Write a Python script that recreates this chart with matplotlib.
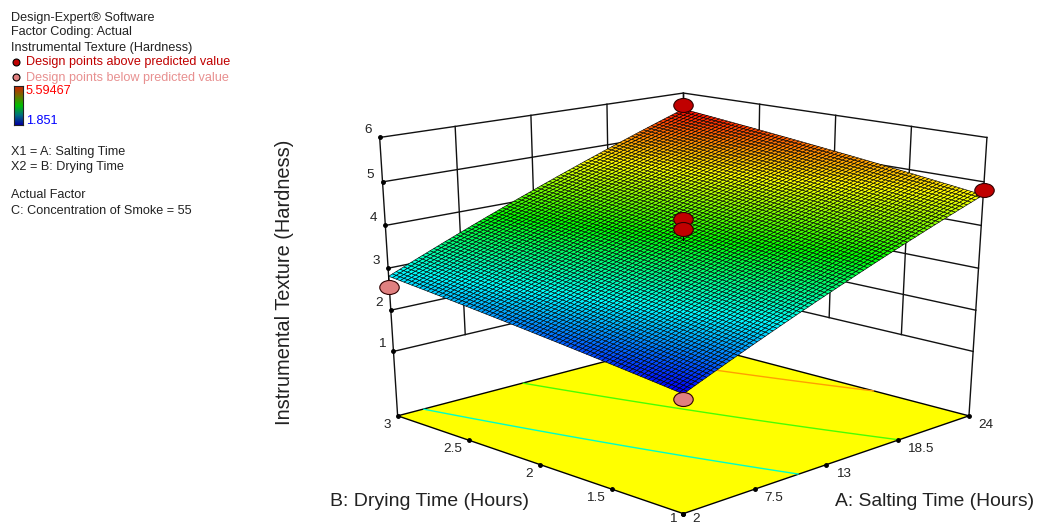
import matplotlib
matplotlib.use('Agg')
import matplotlib.pyplot as plt
import numpy as np
from matplotlib.colors import LinearSegmentedColormap
from matplotlib.markers import MarkerStyle
from matplotlib.transforms import Affine2D
from mpl_toolkits.mplot3d import proj3d

plt.rcParams['font.family'] = ['Liberation Sans', 'DejaVu Sans']

# axis ticks
a_ticks = [2, 7.5, 13, 18.5, 24]
b_ticks = [1, 1.5, 2, 2.5, 3]
z_ticks = [1, 2, 3, 4, 5, 6]
z_floor = -0.6
z_top = 6

# fitted surface at the four corners of the design space
surf_a2_b1 = 1.851
surf_a2_b3 = 2.74
surf_a24_b1 = 4.70
surf_a24_b3 = 5.59467
# these two corners sit a bit higher in the drawing than their colour says
surf_a2_b1_drawn = 2.0
surf_a2_b3_drawn = 2.81
contour_levels = [3, 4, 5]

# design points
above_a = [24, 24, 13, 13]
above_b = [3, 1, 2, 2]
above_z = [5.69, 4.82, 4.24, 4.03]
below_a = [2, 2]
below_b = [1, 3]
below_z = [1.90, 2.55]

W, H = 1037, 524
fig = plt.figure(figsize=(W / 100, H / 100), dpi=100)
cmap = LinearSegmentedColormap.from_list('de', ['#0000ff', '#00ffff', '#00ff00', '#ffff00', '#ff0000'])
bar_cmap = LinearSegmentedColormap.from_list('bar', ['#0000a0', '#007080', '#00c000', '#707000', '#d02000'])
norm = plt.Normalize(surf_a2_b1, surf_a24_b3)

ax = fig.add_subplot(projection='3d', computed_zorder=False)
# the picture is stretched sideways, so let the 3d axes be non square
ax.apply_aspect = lambda position=None: None
ax.set_position([330 / W, (H - 543.3) / H, 688 / W, 511 / H])
ax.set_box_aspect((1, 1, 0.9476))
ax.view_init(elev=18.35, azim=-135)
ax.set_proj_type('persp', focal_length=0.5475)
ax.set_xlim(a_ticks[0], a_ticks[-1])
ax.set_ylim(b_ticks[0], b_ticks[-1])
ax.set_zlim(z_floor, z_top)
ax.set_axis_off()

a0, a1 = a_ticks[0], a_ticks[-1]
b0, b1 = b_ticks[0], b_ticks[-1]


# the original spaces ticks evenly on screen, this undoes the perspective along the floor
def even(v, lo, hi, r=1.15):
    s = (np.asarray(v, dtype=float) - lo) / (hi - lo)
    return lo + (hi - lo) * s / (s + (1 - s) * r)


def pa(v):
    return even(v, a0, a1)


def pb(v):
    return even(v, b0, b1)


def corners(ta, tb, front, left):
    return (front * (1 - ta) * (1 - tb) + surf_a24_b1 * ta * (1 - tb)
            + left * (1 - ta) * tb + surf_a24_b3 * ta * tb)


# back walls
for a in a_ticks:
    low = z_floor if a == a0 else z_ticks[0]
    ax.plot([pa(a), pa(a)], [b1, b1], [low, z_top], color='#111111', lw=1, zorder=1)
for b in b_ticks:
    low = z_floor if b == b0 else z_ticks[0]
    ax.plot([a1, a1], [pb(b), pb(b)], [low, z_top], color='#111111', lw=1, zorder=1)
for z in z_ticks:
    ax.plot([a0, a1], [b1, b1], [z, z], color='#111111', lw=1, zorder=1)
    ax.plot([a1, a1], [b0, b1], [z, z], color='#111111', lw=1, zorder=1)

# floor
fa, fb = np.meshgrid([a0, a1], [b0, b1])
ax.plot_surface(fa, fb, np.full(fa.shape, z_floor), color='#ffff00', shade=False, zorder=2)
ax.plot([a0, a1, a1, a0, a0], [b0, b0, b1, b1, b0], [z_floor] * 5, color='black', lw=1, zorder=2.5)

# response surface
n = 76
sa, sb = np.meshgrid(np.linspace(a0, a1, n + 1), np.linspace(b0, b1, n + 1))
ta = (sa - a0) / (a1 - a0)
tb = (sb - b0) / (b1 - b0)
field = corners(ta, tb, surf_a2_b1, surf_a2_b3)
drawn = corners(ta, tb, surf_a2_b1_drawn, surf_a2_b3_drawn)
ga, gb = pa(sa), pb(sb)

ax.contour(ga, gb, field, levels=contour_levels, zdir='z', offset=z_floor,
           colors=[cmap(norm(v)) for v in contour_levels], linewidths=1, zorder=3)
ax.plot_surface(ga, gb, drawn, facecolors=cmap(norm(field)), rstride=1, cstride=1, shade=False,
                edgecolor='black', linewidth=0.43, antialiased=True, zorder=4)

# design points with their stems to the surface
ell = MarkerStyle('o', transform=Affine2D().scale(1, 0.72))
for a, b, z in zip(above_a + below_a, above_b + below_b, above_z + below_z):
    zs = corners((a - a0) / (a1 - a0), (b - b0) / (b1 - b0), surf_a2_b1_drawn, surf_a2_b3_drawn)
    ax.plot([pa(a), pa(a)], [pb(b), pb(b)], [z, zs], color='black', lw=0.8, zorder=5)
ax.plot(pa(above_a), pb(above_b), above_z, ls='none', marker=ell, ms=14, mfc='#c00000', mec='#300000', mew=0.8, zorder=6)
ax.plot(pa(below_a), pb(below_b), below_z, ls='none', marker=ell, ms=14, mfc='#e08080', mec='#300000', mew=0.8, zorder=6)

# tick dots
ax.plot([a0] * 5, pb(b_ticks), [z_floor] * 5, ls='none', marker='o', ms=2.5, color='black', zorder=5)
ax.plot(pa(a_ticks), [b0] * 5, [z_floor] * 5, ls='none', marker='o', ms=2.5, color='black', zorder=5)
ax.plot([a0] * 6, [b1] * 6, z_ticks, ls='none', marker='o', ms=2.5, color='black', zorder=5)


def tick_label(a, b, z, txt, dx, dy, ha):
    xp, yp, _ = proj3d.proj_transform(a, b, z, ax.get_proj())
    ax.annotate(txt, xy=(xp, yp), xytext=(dx, dy), textcoords='offset pixels', ha=ha, va='center',
                fontsize=9.7, color='#222222', annotation_clip=False)


for a in a_ticks:
    tick_label(pa(a), b0, z_floor, str(a), 9.5, -5 if a == a0 else -9, 'left')
for b in b_ticks:
    tick_label(a0, pb(b), z_floor, str(b), -7, -5 if b == b0 else -9, 'right')
for z in z_ticks:
    tick_label(a0, b1, z, str(z), -8, 7, 'right')

# axis titles
fig.text(430 / W, 1 - 502 / H, 'B: Drying Time (Hours)', fontsize=14, color='#222222', ha='center', va='center')
fig.text(935 / W, 1 - 502 / H, 'A: Salting Time (Hours)', fontsize=13.9, color='#222222', ha='center', va='center')
fig.text(285 / W, 1 - 282 / H, 'Instrumental Texture (Hardness)', fontsize=14.4, color='#222222',
         rotation=90, ha='center', va='center')

# legend block
dark = '#222222'
info_lines = [
    (18.5, 'Design-Expert® Software', dark),
    (32.5, 'Factor Coding: Actual', dark),
    (47.5, 'Instrumental Texture (Hardness)', dark),
    (151.5, 'X1 = A: Salting Time', dark),
    (166.5, 'X2 = B: Drying Time', dark),
    (195.5, 'Actual Factor', dark),
    (210.5, 'C: Concentration of Smoke = 55', dark),
]
for y, txt, col in info_lines:
    fig.text(11 / W, 1 - y / H, txt, fontsize=9.1, color=col, va='center')
fig.text(26 / W, 1 - 62.5 / H, 'Design points above predicted value', fontsize=9.1, color='#c00000', va='center')
fig.text(26 / W, 1 - 77.5 / H, 'Design points below predicted value', fontsize=9.1, color='#e89090', va='center')
fig.text(26 / W, 1 - 91.5 / H, '5.59467', fontsize=9.1, color='#ff0000', va='center')
fig.text(26 / W, 1 - 121.5 / H, '1.851', fontsize=9.1, color='#0000ff', va='center')

key = fig.add_axes([0, 0, 1, 1])
key.set_xlim(0, W)
key.set_ylim(H, 0)
key.axis('off')
key.patch.set_alpha(0)
key.plot([15.5], [62], ls='none', marker='o', ms=5, mfc='#c00000', mec='black', mew=0.8)
key.plot([15.5], [77], ls='none', marker='o', ms=5, mfc='#e08080', mec='black', mew=0.8)

bar = fig.add_axes([13.5 / W, 1 - 125 / H, 9 / W, 39 / H])
bar.imshow(np.linspace(surf_a24_b3, surf_a2_b1, 64)[:, None], cmap=bar_cmap, norm=norm, aspect='auto')
bar.set_xticks([])
bar.set_yticks([])
for s in bar.spines.values():
    s.set_color('#222222')
    s.set_linewidth(0.8)

fig.savefig('out.png', dpi=100)
